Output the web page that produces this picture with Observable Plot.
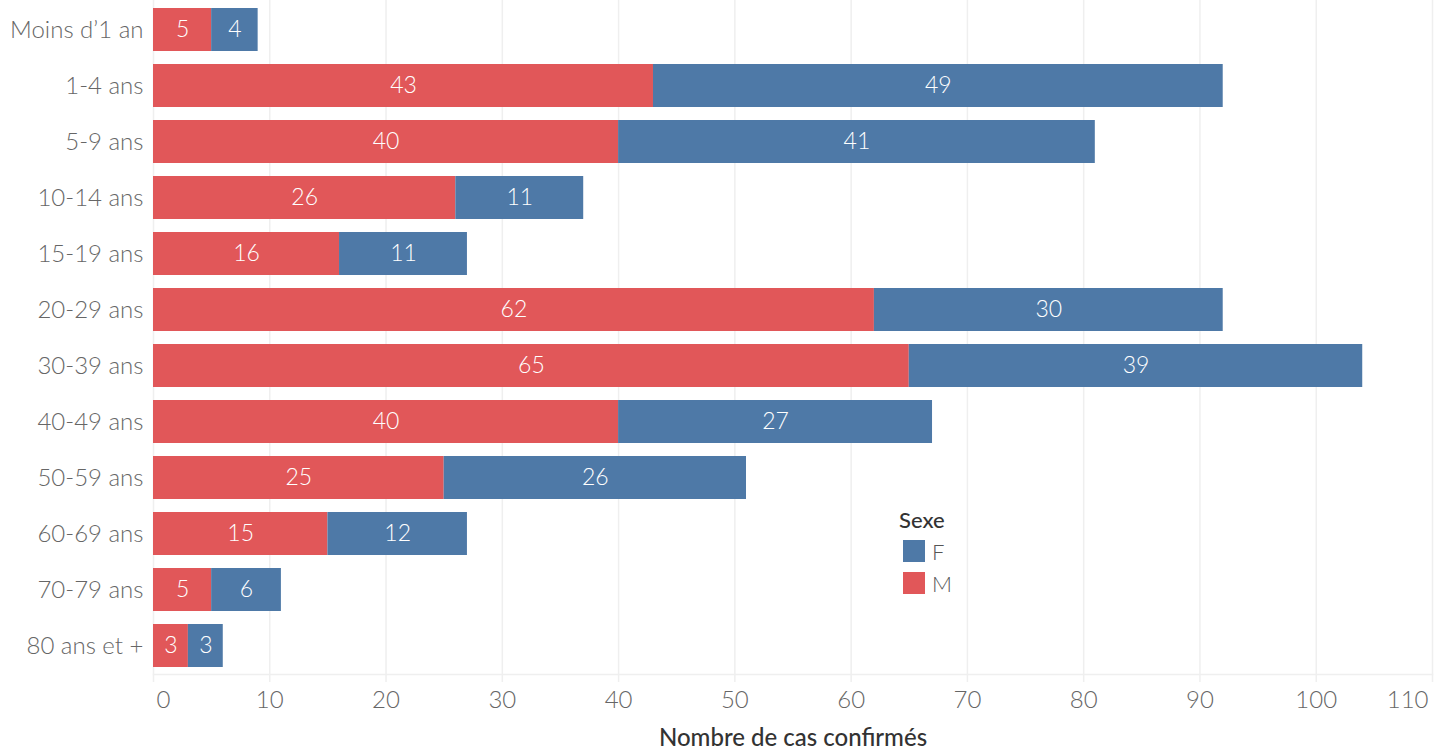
<!DOCTYPE html>
<html>
<head>
<meta charset="utf-8">
<script src="https://cdn.jsdelivr.net/npm/d3@7"></script>
<script src="https://cdn.jsdelivr.net/npm/@observablehq/plot@0.6"></script>
<style>
  html, body { margin: 0; padding: 0; background: #fff; }
  #wrap { position: relative; width: 1447px; height: 755px; font-family: "Lato", sans-serif; }
  #legend { position: absolute; left: 899px; top: 506px; color: #333; }
  #legend .title { font-size: 22px; font-weight: 500; color: #333; margin-bottom: 2px; }
  #legend .item { display: flex; align-items: center; height: 32px; margin-left: 4px; }
  #legend .sw { width: 22px; height: 22px; margin-right: 7px; }
  #legend .lab { font-size: 22px; color: #555; font-weight: 300; }
</style>
</head>
<body>
<div id="wrap"><div id="chart"></div><div id="legend"></div></div>
<script>
const ages = ["Moins d\u20191 an","1-4 ans","5-9 ans","10-14 ans","15-19 ans","20-29 ans","30-39 ans","40-49 ans","50-59 ans","60-69 ans","70-79 ans","80 ans et +"];
const male = [5,43,40,26,16,62,65,40,25,15,5,3];
const female = [4,49,41,11,11,30,39,27,26,12,6,3];
const sexes = ["M","F"];
const sexColors = ["#e15759","#4e79a7"];
const legendOrder = ["F","M"];
const xTicks = [0,10,20,30,40,50,60,70,80,90,100,110];
const xLabel = "Nombre de cas confirmés";
const legendTitle = "Sexe";

const data = [
  ...ages.map((a, i) => ({age: a, sex: "M", value: male[i]})),
  ...ages.map((a, i) => ({age: a, sex: "F", value: female[i]}))
];

const midTicks = xTicks.slice(1, -1);
const firstTick = [xTicks[0]];
const lastTick = [xTicks[xTicks.length - 1]];

const chart = Plot.plot({
  width: 1447,
  height: 755,
  marginLeft: 153,
  marginRight: 15,
  marginTop: 2,
  marginBottom: 81,
  style: {fontFamily: "Lato, sans-serif", fontSize: "22px", color: "#666", background: "#fff"},
  x: {domain: [0, 110]},
  y: {domain: ages, paddingInner: 0.23, paddingOuter: 0.115},
  color: {domain: sexes, range: sexColors},
  marks: [
    Plot.ruleX(xTicks, {stroke: "#efefef", strokeWidth: 1.5, insetTop: -2, insetBottom: -8}),
    Plot.frame({anchor: "bottom", stroke: "#efefef", strokeWidth: 1.5}),
    Plot.barX(data, Plot.stackX({x: "value", y: "age", fill: "sex", z: "sex"})),
    Plot.text(data, Plot.stackX({x: "value", y: "age", z: "sex", text: "value", fill: "white", fontSize: 23, fontWeight: 300})),
    Plot.axisY({tickSize: 0, tickPadding: 10, label: null, fontSize: 24, fontWeight: 300, fill: "#666"}),
    Plot.axisX(midTicks, {tickSize: 0, tickPadding: 16, label: null, fontSize: 24, fontWeight: 300, fill: "#666"}),
    Plot.axisX(firstTick, {tickSize: 0, tickPadding: 16, label: null, fontSize: 24, fontWeight: 300, fill: "#666", textAnchor: "start", dx: 3}),
    Plot.axisX(lastTick, {tickSize: 0, tickPadding: 16, label: null, fontSize: 24, fontWeight: 300, fill: "#666", textAnchor: "end", dx: -4}),
    Plot.text([xLabel], {frameAnchor: "bottom", dy: 71, fontSize: 24, fontWeight: 500, fill: "#333"})
  ]
});
document.getElementById("chart").appendChild(chart);

const lg = document.getElementById("legend");
const t = document.createElement("div");
t.className = "title"; t.textContent = legendTitle; lg.appendChild(t);
legendOrder.forEach(s => {
  const it = document.createElement("div"); it.className = "item";
  const sw = document.createElement("div"); sw.className = "sw";
  sw.style.background = sexColors[sexes.indexOf(s)];
  const lb = document.createElement("div"); lb.className = "lab"; lb.textContent = s;
  it.appendChild(sw); it.appendChild(lb); lg.appendChild(it);
});
</script>
</body>
</html>
